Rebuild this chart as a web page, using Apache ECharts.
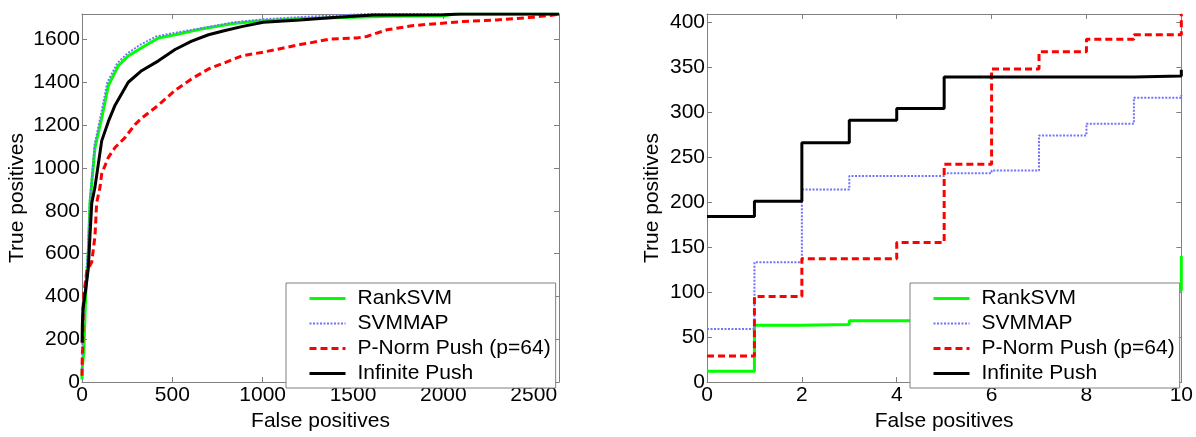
<!DOCTYPE html>
<html>
<head>
<meta charset="utf-8">
<script src="https://cdn.jsdelivr.net/npm/echarts@6/dist/echarts.min.js"></script>
<style>
  html, body { margin: 0; padding: 0; background: #fff; }
  #main { width: 1196px; height: 437px; }
</style>
</head>
<body>
<div id="main"></div>
<script>
// names of the four methods
var names = ['RankSVM', 'SVMMAP', 'P-Norm Push (p=64)', 'Infinite Push'];

// left panel: full curves (false positives / true positives)
var rankFp = [0, 1, 3, 5, 10, 20, 35, 44, 72, 109, 146, 201, 256, 330, 423, 515, 653, 837, 1000, 1200, 1500, 1700, 2000, 2060, 2640];
var rankTp = [12, 63, 68, 70, 140, 400, 606, 836, 1096, 1233, 1386, 1478, 1524, 1562, 1608, 1623, 1649, 1676, 1688, 1698, 1705, 1710, 1711, 1720, 1720];

var svmFp = [0, 1, 2, 5, 10, 20, 33, 44, 70, 105, 140, 195, 250, 320, 410, 500, 650, 830, 1000, 1200, 1400, 1578, 2640];
var svmTp = [59, 133, 214, 232, 319, 480, 620, 850, 1110, 1250, 1400, 1490, 1535, 1575, 1615, 1630, 1652, 1680, 1695, 1705, 1713, 1720, 1720];

var pnFp = [0, 1, 2, 4, 5, 6, 10, 26, 54, 72, 81, 100, 109, 146, 183, 238, 293, 330, 423, 515, 607, 700, 792, 884, 1004, 1207, 1262, 1373, 1521, 1576, 1687, 1835, 2112, 2296, 2481, 2610, 2640];
var pnTp = [29, 95, 137, 155, 242, 348, 409, 515, 561, 683, 836, 912, 973, 1050, 1096, 1142, 1203, 1233, 1294, 1363, 1417, 1463, 1493, 1524, 1542, 1577, 1585, 1603, 1608, 1615, 1646, 1666, 1685, 1692, 1704, 1715, 1720];

var infFp = [0, 1, 2, 5, 10, 20, 35, 44, 54, 72, 109, 146, 183, 256, 330, 423, 515, 607, 700, 792, 884, 1003, 1207, 1391, 1613, 2000, 2100, 2640];
var infTp = [184, 201, 266, 339, 347, 430, 531, 683, 836, 912, 1127, 1218, 1294, 1401, 1455, 1501, 1554, 1593, 1623, 1643, 1661, 1681, 1692, 1704, 1715, 1716, 1720, 1720];

// right panel: first ten false positives (step curves)
var zRankFp = [0, 1, 2, 3, 5, 6, 7, 8, 9, 10, 10];
var zRankTp = [12, 63, 64, 68, 70, 75, 85, 95, 102, 102, 140];
var zSvmFp = [0, 1, 2, 3, 5, 6, 7, 8, 9, 10, 10];
var zSvmTp = [59, 133, 214, 229, 232, 235, 274, 287, 316, 316, 319];
var zPnFp = [0, 1, 2, 4, 5, 6, 7, 8, 9, 10, 10];
var zPnTp = [29, 95, 137, 155, 242, 348, 367, 381, 386, 386, 409];
var zInfFp = [0, 1, 2, 3, 4, 5, 9, 10, 10];
var zInfTp = [184, 201, 266, 291, 304, 339, 340, 340, 347];

function zip(xs, ys) {
    return xs.map(function (x, i) { return [x, ys[i]]; });
}

var styles = [
    { color: '#00ff00', width: 3, type: 'solid' },
    { color: '#7373ff', width: 2, type: [2, 1.5] },
    { color: '#ff0000', width: 3, type: [7, 4] },
    { color: '#000000', width: 3, type: 'solid' }
];

var font = 'Liberation Sans, Arial, sans-serif';
var frame = '#808080';

function mkX(grid, min, max, step, bottom) {
    return {
        type: 'value', gridIndex: grid, min: min, max: max, interval: step,
        position: bottom ? 'bottom' : 'top',
        name: bottom ? 'False positives' : '',
        nameLocation: 'middle', nameGap: 29,
        nameTextStyle: { color: '#000', fontSize: 21, fontFamily: font },
        axisLine: { show: true, onZero: false, lineStyle: { color: frame, width: 1 } },
        axisTick: { show: true, inside: true, length: 5, lineStyle: { color: frame } },
        axisLabel: {
            show: bottom, color: '#000', fontSize: 21, fontFamily: font, margin: 3,
            formatter: function (v) { return v % step === 0 ? String(v) : ''; }
        },
        splitLine: { show: false }
    };
}

function mkY(grid, min, max, step, left, gap) {
    return {
        type: 'value', gridIndex: grid, min: min, max: max, interval: step,
        position: left ? 'left' : 'right',
        name: left ? 'True positives' : '',
        nameLocation: 'middle', nameGap: gap,
        nameTextStyle: { color: '#000', fontSize: 21, fontFamily: font },
        axisLine: { show: true, onZero: false, lineStyle: { color: frame, width: 1 } },
        axisTick: { show: true, inside: true, length: 5, lineStyle: { color: frame } },
        axisLabel: {
            show: left, color: '#000', fontSize: 21, fontFamily: font, margin: 2,
            formatter: function (v) { return v % step === 0 ? String(v) : ''; }
        },
        splitLine: { show: false }
    };
}

function mkSeries(i, data, grid, step) {
    return {
        name: names[i], type: 'line', data: data,
        xAxisIndex: grid * 2, yAxisIndex: grid * 2,
        symbol: 'none', step: step ? 'end' : false,
        itemStyle: { color: styles[i].color },
        lineStyle: { color: styles[i].color, width: styles[i].width, type: styles[i].type },
        z: 2 + i * 0.1
    };
}

function mkLegend(left) {
    return {
        data: names.map(function (n, i) {
            return { name: n, lineStyle: { width: styles[i].width, type: styles[i].type } };
        }),
        orient: 'vertical', left: left, top: 283,
        itemWidth: 36, itemHeight: 20, itemGap: 4,
        padding: [5, 5, 4, 22],
        backgroundColor: '#fff', borderColor: frame, borderWidth: 1,
        selectedMode: false,
        itemStyle: { opacity: 0 },
        textStyle: { color: '#000', fontSize: 21, fontFamily: font, padding: [0, 0, 0, 7] }
    };
}

var chart = echarts.init(document.getElementById('main'), null, { renderer: 'canvas' });

var option = {
    backgroundColor: '#fff',
    animation: false,
    grid: [
        { left: 82, top: 14, width: 477, height: 375 },
        { left: 707, top: 14, width: 475, height: 375 }
    ],
    xAxis: [
        mkX(0, 0, 2640, 500, true), mkX(0, 0, 2640, 500, false),
        mkX(1, 0, 10, 2, true), mkX(1, 0, 10, 2, false)
    ],
    yAxis: [
        mkY(0, 0, 1720, 200, true, 54), mkY(0, 0, 1720, 200, false, 0),
        mkY(1, 0, 409, 50, true, 44), mkY(1, 0, 409, 50, false, 0)
    ],
    legend: [mkLegend(286), mkLegend(910)],
    series: [
        mkSeries(0, zip(rankFp, rankTp), 0, false),
        mkSeries(1, zip(svmFp, svmTp), 0, false),
        mkSeries(2, zip(pnFp, pnTp), 0, false),
        mkSeries(3, zip(infFp, infTp), 0, false),
        mkSeries(0, zip(zRankFp, zRankTp), 1, true),
        mkSeries(1, zip(zSvmFp, zSvmTp), 1, true),
        mkSeries(2, zip(zPnFp, zPnTp), 1, true),
        mkSeries(3, zip(zInfFp, zInfTp), 1, true)
    ]
};

chart.setOption(option);
</script>
</body>
</html>
